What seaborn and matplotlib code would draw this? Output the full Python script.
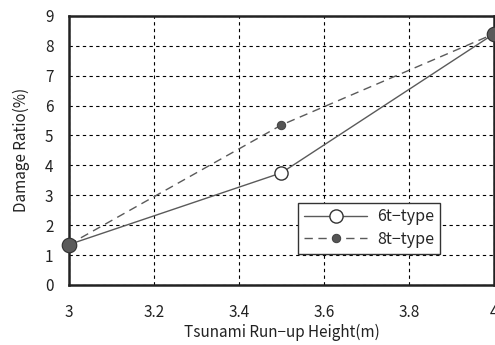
import matplotlib
matplotlib.use("Agg")
import matplotlib.pyplot as plt
import seaborn as sns
import pandas as pd

# Tsunami run-up height (m) and damage ratio (%) for two vessel types
heights = [3.0, 3.5, 4.0]
damage_6t = [1.35, 3.75, 8.4]
damage_8t = [1.35, 5.35, 8.4]
series_names = ["6t\u2212type", "8t\u2212type"]

sns.set_theme(style="white")
plt.rcParams["font.family"] = ["Noto Sans CJK JP", "DejaVu Sans"]

df = pd.concat([
    pd.DataFrame({"h": heights, "d": damage_6t, "type": series_names[0]}),
    pd.DataFrame({"h": heights, "d": damage_8t, "type": series_names[1]}),
])

fig = plt.figure(figsize=(4.95, 3.45), dpi=100)
ax = fig.add_axes([0.139, 0.174, 0.859, 0.780])

d6 = df[df["type"] == series_names[0]]
d8 = df[df["type"] == series_names[1]]

sns.lineplot(data=d6, x="h", y="d", ax=ax, color="#5a5a5a", lw=1.0,
             marker="o", markersize=9.5, markerfacecolor="white",
             markeredgecolor="#333333", markeredgewidth=1.0,
             label=series_names[0], clip_on=False, zorder=3)
sns.lineplot(data=d8, x="h", y="d", ax=ax, color="#5a5a5a", lw=1.0,
             linestyle=(0, (6, 4)), marker="o", markersize=6,
             markerfacecolor="#555555", markeredgecolor="#444444",
             label=series_names[1], clip_on=False, zorder=4)
# shared end points drawn larger
ends = d8.iloc[[0, -1]]
ax.scatter(ends["h"], ends["d"], s=110, color="#5a5a5a",
           edgecolor="#333333", linewidth=0.8, zorder=5, clip_on=False)

ax.set_xlim(3, 4)
ax.set_ylim(0, 9)
ax.set_xticks([3, 3.2, 3.4, 3.6, 3.8, 4])
ax.set_xticklabels(["3", "3.2", "3.4", "3.6", "3.8", "4"])
ax.set_yticks(range(0, 10))

ax.grid(True, color="black", linestyle=(0, (3, 3)), linewidth=0.8)
for s in ax.spines.values():
    s.set_color("#222222")
    s.set_linewidth(1.8)

ax.tick_params(axis="both", labelsize=11, colors="#222222", length=0)
ax.tick_params(axis="x", pad=14)
ax.tick_params(axis="y", pad=11)
ax.set_xlabel("Tsunami Run\u2212up Height(m)", fontsize=11, labelpad=2, color="#222222")
ax.set_ylabel("Damage Ratio(%)", fontsize=11, labelpad=11, color="#222222")

leg = ax.legend(loc="upper left", bbox_to_anchor=(0.539, 0.305), fontsize=11.5,
                frameon=True, fancybox=False, edgecolor="#333333",
                handlelength=4.0, borderpad=0.35, labelspacing=0.35,
                handletextpad=0.6, borderaxespad=0)
leg.get_frame().set_linewidth(1.0)
leg.get_frame().set_alpha(1)

fig.savefig("out.png", dpi=100)
